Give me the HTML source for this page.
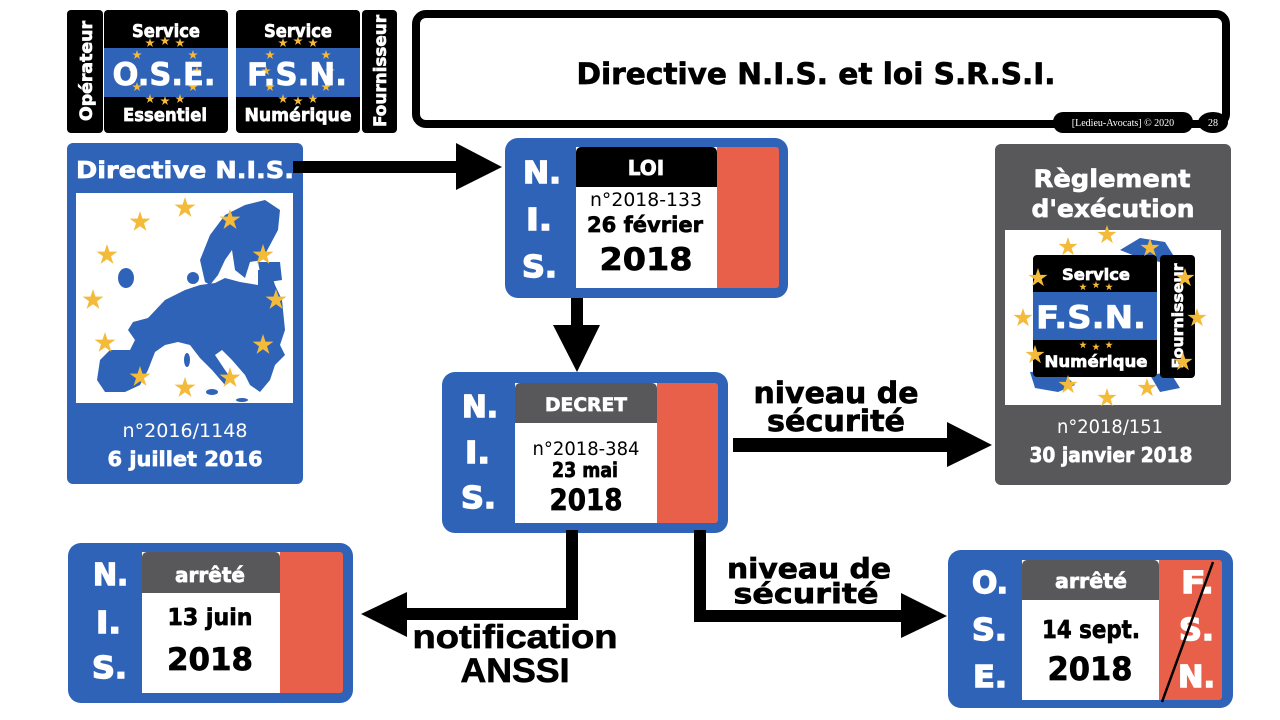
<!DOCTYPE html>
<html>
<head>
<meta charset="utf-8">
<style>
html,body{margin:0;padding:0;background:#fff;}
svg{display:block;}
.b{font-family:"DejaVu Sans","Liberation Sans",sans-serif;font-weight:bold;}
.r{font-family:"DejaVu Sans","Liberation Sans",sans-serif;font-weight:normal;}
.a{font-family:"Liberation Sans","DejaVu Sans",sans-serif;font-weight:bold;}
.s{font-family:"Liberation Serif","DejaVu Serif",serif;}
text.b[fill="#fff"]{stroke:#fff;stroke-width:0.7;}
text.b[fill="#000"],text.a[fill="#000"]{stroke:#000;stroke-width:0.7;}
text.L{stroke-width:1.4 !important;}
</style>
</head>
<body>
<svg width="1280" height="720" viewBox="0 0 1280 720" xmlns="http://www.w3.org/2000/svg">
<defs>
<path id="st" d="M0,-1 L0.225,-0.309 L0.951,-0.309 L0.363,0.118 L0.588,0.809 L0,0.382 L-0.588,0.809 L-0.363,0.118 L-0.951,-0.309 L-0.225,-0.309 Z" fill="#f4bb3a"/>
</defs>
<rect width="1280" height="720" fill="#fff"/>

<!-- ===== Top-left badges ===== -->
<rect x="67" y="10" width="36" height="123" rx="4" fill="#000"/>
<text class="b" fill="#fff" font-size="17" text-anchor="middle" textLength="100" lengthAdjust="spacingAndGlyphs" transform="translate(92,71) rotate(-90)">Opérateur</text>

<rect x="104" y="10" width="124" height="123" rx="4" fill="#000"/>
<rect x="104" y="48" width="124" height="49" fill="#2f63b8"/>
<g>
<use href="#st" transform="translate(150,43) scale(5)"/><use href="#st" transform="translate(165,41) scale(5)"/><use href="#st" transform="translate(180,43) scale(5)"/>
<use href="#st" transform="translate(150,99) scale(5)"/><use href="#st" transform="translate(165,101) scale(5)"/><use href="#st" transform="translate(180,99) scale(5)"/>
<use href="#st" transform="translate(137,55) scale(5)"/><use href="#st" transform="translate(193,55) scale(5)"/>
<use href="#st" transform="translate(133,71) scale(5)"/><use href="#st" transform="translate(197,71) scale(5)"/>
<use href="#st" transform="translate(137,87) scale(5)"/><use href="#st" transform="translate(193,87) scale(5)"/>
</g>
<text class="b" fill="#fff" font-size="18" x="166" y="37" text-anchor="middle" textLength="68" lengthAdjust="spacingAndGlyphs">Service</text>
<text class="b" fill="#fff" font-size="31" x="164" y="85" text-anchor="middle" textLength="103" lengthAdjust="spacingAndGlyphs">O.S.E.</text>
<text class="b" fill="#fff" font-size="18" x="165" y="121" text-anchor="middle" textLength="84" lengthAdjust="spacingAndGlyphs">Essentiel</text>

<rect x="236" y="10" width="124" height="123" rx="4" fill="#000"/>
<rect x="236" y="48" width="124" height="49" fill="#2f63b8"/>
<g>
<use href="#st" transform="translate(283,43) scale(5)"/><use href="#st" transform="translate(298,41) scale(5)"/><use href="#st" transform="translate(313,43) scale(5)"/>
<use href="#st" transform="translate(283,99) scale(5)"/><use href="#st" transform="translate(298,101) scale(5)"/><use href="#st" transform="translate(313,99) scale(5)"/>
<use href="#st" transform="translate(270,55) scale(5)"/><use href="#st" transform="translate(326,55) scale(5)"/>
<use href="#st" transform="translate(266,71) scale(5)"/><use href="#st" transform="translate(330,71) scale(5)"/>
<use href="#st" transform="translate(270,87) scale(5)"/><use href="#st" transform="translate(326,87) scale(5)"/>
</g>
<text class="b" fill="#fff" font-size="18" x="298" y="37" text-anchor="middle" textLength="68" lengthAdjust="spacingAndGlyphs">Service</text>
<text class="b" fill="#fff" font-size="31" x="297" y="85" text-anchor="middle" textLength="100" lengthAdjust="spacingAndGlyphs">F.S.N.</text>
<text class="b" fill="#fff" font-size="18" x="298" y="121" text-anchor="middle" textLength="107" lengthAdjust="spacingAndGlyphs">Numérique</text>

<rect x="362" y="10" width="35" height="123" rx="4" fill="#000"/>
<text class="b" fill="#fff" font-size="17" text-anchor="middle" textLength="112" lengthAdjust="spacingAndGlyphs" transform="translate(386,71) rotate(-90)">Fournisseur</text>

<!-- ===== Title box ===== -->
<rect x="416" y="14" width="810" height="110" rx="10" fill="#fff" stroke="#000" stroke-width="8"/>
<text class="b" fill="#000" font-size="29.5" x="816" y="84" text-anchor="middle" textLength="479" lengthAdjust="spacingAndGlyphs">Directive N.I.S. et loi S.R.S.I.</text>
<rect x="1053" y="112" width="140" height="21" rx="10" fill="#000"/>
<text class="s" fill="#fff" font-size="10" x="1123" y="126" text-anchor="middle">[Ledieu-Avocats] © 2020</text>
<ellipse cx="1213" cy="122.5" rx="15" ry="10.5" fill="#000"/>
<text class="s" fill="#fff" font-size="10" x="1213" y="126" text-anchor="middle">28</text>

<!-- ===== Directive N.I.S. card ===== -->
<rect x="67" y="143" width="236" height="341" rx="6" fill="#2f63b8"/>
<rect x="76" y="193" width="217" height="210" fill="#fff"/>
<text class="b" fill="#fff" font-size="23" x="185" y="178" text-anchor="middle" textLength="218" lengthAdjust="spacingAndGlyphs">Directive N.I.S.</text>
<g fill="#2f63b8">
<polygon points="133,322 148,318 165,300 185,290 200,285 215,283 225,278 240,282 258,285 258,270 270,270 275,285 282,300 285,330 280,345 285,355 275,365 270,380 260,392 250,385 245,375 232,360 222,350 215,355 225,370 232,380 225,385 212,370 200,358 190,345 178,342 165,345 155,352 148,370 140,385 125,392 105,392 97,380 100,360 110,350 130,350 135,340 128,330"/>
<polygon points="205,282 200,260 210,235 225,215 245,205 265,200 280,210 278,230 270,245 262,260 250,262 245,278 235,270 232,250 225,260 218,275 210,285"/>
<polygon points="258,262 280,262 282,280 262,283"/>
<ellipse cx="126" cy="278" rx="8" ry="10"/>
<ellipse cx="193" cy="278" rx="6" ry="6"/>
<ellipse cx="187" cy="360" rx="3" ry="7"/>
<ellipse cx="212" cy="392" rx="6" ry="3"/>
<ellipse cx="242" cy="400" rx="6" ry="2"/>
</g>
<g>
<use href="#st" transform="translate(185,208) scale(11)"/>
<use href="#st" transform="translate(140,222) scale(11)"/>
<use href="#st" transform="translate(230,220) scale(11)"/>
<use href="#st" transform="translate(107,255) scale(11)"/>
<use href="#st" transform="translate(263,255) scale(11)"/>
<use href="#st" transform="translate(93,300) scale(11)"/>
<use href="#st" transform="translate(276,300) scale(11)"/>
<use href="#st" transform="translate(105,343) scale(11)"/>
<use href="#st" transform="translate(263,345) scale(11)"/>
<use href="#st" transform="translate(140,377) scale(11)"/>
<use href="#st" transform="translate(230,378) scale(11)"/>
<use href="#st" transform="translate(185,388) scale(11)"/>
</g>
<text class="r" fill="#fff" font-size="19" x="185" y="437" text-anchor="middle" textLength="125" lengthAdjust="spacingAndGlyphs">n°2016/1148</text>
<text class="b" fill="#fff" font-size="20" x="185" y="466" text-anchor="middle" textLength="155" lengthAdjust="spacingAndGlyphs">6 juillet 2016</text>

<!-- Arrow Directive -> LOI -->
<rect x="293" y="161" width="165" height="12" fill="#000"/>
<polygon points="456,143 502,167 456,190" fill="#000"/>

<!-- ===== LOI card ===== -->
<rect x="505" y="138" width="283" height="160" rx="13" fill="#2f63b8"/>
<rect x="576" y="147" width="141" height="141" fill="#fff"/>
<rect x="717" y="147" width="62" height="141" rx="3" fill="#e8604a"/>
<rect x="717" y="147" width="8" height="141" fill="#e8604a"/>
<rect x="576" y="147" width="141" height="40" rx="5" fill="#000"/>
<rect x="576" y="177" width="141" height="10" fill="#000"/>
<text class="b" fill="#fff" font-size="20" x="646" y="175" text-anchor="middle">LOI</text>
<text class="r" fill="#000" font-size="19" x="646" y="206" text-anchor="middle" textLength="112" lengthAdjust="spacingAndGlyphs">n°2018-133</text>
<text class="b" fill="#000" font-size="21" x="645" y="232" text-anchor="middle" textLength="116" lengthAdjust="spacingAndGlyphs">26 février</text>
<text class="b" fill="#000" font-size="31" x="646" y="270" text-anchor="middle" textLength="93" lengthAdjust="spacingAndGlyphs">2018</text>
<text class="b L" fill="#fff" font-size="30" x="523" y="183" textLength="38" lengthAdjust="spacingAndGlyphs">N.</text>
<text class="b L" fill="#fff" font-size="30" x="526" y="230" textLength="26" lengthAdjust="spacingAndGlyphs">I.</text>
<text class="b L" fill="#fff" font-size="30" x="522" y="277" textLength="35" lengthAdjust="spacingAndGlyphs">S.</text>

<!-- Arrow LOI -> DECRET -->
<rect x="571" y="298" width="12" height="30" fill="#000"/>
<polygon points="553,325 600,325 577,372" fill="#000"/>

<!-- ===== DECRET card ===== -->
<rect x="442" y="372" width="286" height="161" rx="13" fill="#2f63b8"/>
<rect x="515" y="383" width="142" height="140" fill="#fff"/>
<rect x="657" y="383" width="61" height="140" rx="3" fill="#e8604a"/>
<rect x="657" y="383" width="8" height="140" fill="#e8604a"/>
<rect x="515" y="383" width="142" height="40" rx="5" fill="#58585b"/>
<rect x="515" y="413" width="142" height="10" fill="#58585b"/>
<text class="b" fill="#fff" font-size="19" x="586" y="411" text-anchor="middle" textLength="82" lengthAdjust="spacingAndGlyphs">DECRET</text>
<text class="r" fill="#000" font-size="19" x="586" y="455" text-anchor="middle" textLength="107" lengthAdjust="spacingAndGlyphs">n°2018-384</text>
<text class="b" fill="#000" font-size="20" x="585" y="477" text-anchor="middle" textLength="66" lengthAdjust="spacingAndGlyphs">23 mai</text>
<text class="b" fill="#000" font-size="29" x="586" y="510" text-anchor="middle" textLength="73" lengthAdjust="spacingAndGlyphs">2018</text>
<text class="b L" fill="#fff" font-size="30" x="462" y="417" textLength="36" lengthAdjust="spacingAndGlyphs">N.</text>
<text class="b L" fill="#fff" font-size="30" x="465" y="463" textLength="25" lengthAdjust="spacingAndGlyphs">I.</text>
<text class="b L" fill="#fff" font-size="30" x="461" y="508" textLength="35" lengthAdjust="spacingAndGlyphs">S.</text>

<!-- Arrow DECRET -> Règlement -->
<rect x="733" y="438" width="216" height="14" fill="#000"/>
<polygon points="947,422 992,445 947,467" fill="#000"/>
<text class="b" fill="#000" font-size="29" x="836" y="403" text-anchor="middle" textLength="165" lengthAdjust="spacingAndGlyphs">niveau de</text>
<text class="b" fill="#000" font-size="29" x="836" y="431" text-anchor="middle" textLength="138" lengthAdjust="spacingAndGlyphs">sécurité</text>

<!-- ===== Règlement card ===== -->
<rect x="995" y="144" width="236" height="341" rx="6" fill="#58585b"/>
<rect x="1005" y="230" width="216" height="175" fill="#fff"/>
<text class="b" fill="#fff" font-size="24" x="1112" y="187" text-anchor="middle" textLength="157" lengthAdjust="spacingAndGlyphs">Règlement</text>
<text class="b" fill="#fff" font-size="24" x="1113" y="217" text-anchor="middle" textLength="163" lengthAdjust="spacingAndGlyphs">d'exécution</text>
<g fill="#2f63b8">
<polygon points="1120,250 1140,238 1165,242 1175,258 1160,262 1140,258"/>
<polygon points="1030,372 1060,370 1075,385 1058,392 1035,388"/>
<polygon points="1150,375 1170,372 1180,388 1160,392"/>
</g>
<rect x="1033" y="255" width="124" height="122" rx="4" fill="#000"/>
<rect x="1033" y="292" width="124" height="48" fill="#2f63b8"/>
<rect x="1160" y="255" width="35" height="123" rx="4" fill="#000"/>
<text class="b" fill="#fff" font-size="16" x="1096" y="280" text-anchor="middle" textLength="68" lengthAdjust="spacingAndGlyphs">Service</text>
<text class="b" fill="#fff" font-size="31" x="1091" y="328" text-anchor="middle" textLength="110" lengthAdjust="spacingAndGlyphs">F.S.N.</text>
<text class="b" fill="#fff" font-size="16" x="1096" y="367" text-anchor="middle" textLength="103" lengthAdjust="spacingAndGlyphs">Numérique</text>
<text class="b" fill="#fff" font-size="15" text-anchor="middle" textLength="105" lengthAdjust="spacingAndGlyphs" transform="translate(1183,316) rotate(-90)">Fournisseur</text>
<g>
<use href="#st" transform="translate(1107,235) scale(10)"/>
<use href="#st" transform="translate(1068,247) scale(10)"/>
<use href="#st" transform="translate(1150,248) scale(10)"/>
<use href="#st" transform="translate(1038,278) scale(10)"/>
<use href="#st" transform="translate(1185,278) scale(10)"/>
<use href="#st" transform="translate(1023,318) scale(10)"/>
<use href="#st" transform="translate(1197,318) scale(10)"/>
<use href="#st" transform="translate(1035,355) scale(10)"/>
<use href="#st" transform="translate(1183,362) scale(10)"/>
<use href="#st" transform="translate(1068,385) scale(10)"/>
<use href="#st" transform="translate(1147,388) scale(10)"/>
<use href="#st" transform="translate(1107,398) scale(10)"/>
<use href="#st" transform="translate(1083,287) scale(4)"/><use href="#st" transform="translate(1096,285) scale(4)"/><use href="#st" transform="translate(1109,287) scale(4)"/>
<use href="#st" transform="translate(1083,345) scale(4)"/><use href="#st" transform="translate(1096,347) scale(4)"/><use href="#st" transform="translate(1109,345) scale(4)"/>
</g>
<text class="r" fill="#fff" font-size="19" x="1110" y="433" text-anchor="middle" textLength="106" lengthAdjust="spacingAndGlyphs">n°2018/151</text>
<text class="b" fill="#fff" font-size="20" x="1111" y="462" text-anchor="middle" textLength="163" lengthAdjust="spacingAndGlyphs">30 janvier 2018</text>

<!-- ===== Bottom connectors ===== -->
<rect x="566" y="530" width="12" height="90" fill="#000"/>
<rect x="405" y="608" width="173" height="12" fill="#000"/>
<polygon points="407,592 361,614 407,637" fill="#000"/>
<text class="a" fill="#000" font-size="33" x="515" y="648" text-anchor="middle" textLength="205" lengthAdjust="spacingAndGlyphs">notification</text>
<text class="a" fill="#000" font-size="34" x="515" y="682" text-anchor="middle" textLength="109" lengthAdjust="spacingAndGlyphs">ANSSI</text>

<rect x="694" y="530" width="12" height="92" fill="#000"/>
<rect x="694" y="610" width="209" height="12" fill="#000"/>
<polygon points="901,593 947,616 901,638" fill="#000"/>
<text class="b" fill="#000" font-size="28" x="809" y="578" text-anchor="middle" textLength="164" lengthAdjust="spacingAndGlyphs">niveau de</text>
<text class="b" fill="#000" font-size="28" x="806" y="603" text-anchor="middle" textLength="145" lengthAdjust="spacingAndGlyphs">sécurité</text>

<!-- ===== arrêté 13 juin card ===== -->
<rect x="68" y="543" width="285" height="160" rx="13" fill="#2f63b8"/>
<rect x="142" y="552" width="138" height="141" fill="#fff"/>
<rect x="280" y="552" width="63" height="141" rx="3" fill="#e8604a"/>
<rect x="280" y="552" width="8" height="141" fill="#e8604a"/>
<rect x="142" y="552" width="138" height="41" rx="5" fill="#58585b"/>
<rect x="142" y="583" width="138" height="10" fill="#58585b"/>
<text class="b" fill="#fff" font-size="20" x="210" y="582" text-anchor="middle" textLength="70" lengthAdjust="spacingAndGlyphs">arrêté</text>
<text class="b" fill="#000" font-size="23" x="210" y="625" text-anchor="middle" textLength="85" lengthAdjust="spacingAndGlyphs">13 juin</text>
<text class="b" fill="#000" font-size="31" x="210" y="670" text-anchor="middle" textLength="86" lengthAdjust="spacingAndGlyphs">2018</text>
<text class="b L" fill="#fff" font-size="30" x="93" y="585" textLength="35" lengthAdjust="spacingAndGlyphs">N.</text>
<text class="b L" fill="#fff" font-size="30" x="96" y="633" textLength="25" lengthAdjust="spacingAndGlyphs">I.</text>
<text class="b L" fill="#fff" font-size="30" x="92" y="678" textLength="35" lengthAdjust="spacingAndGlyphs">S.</text>

<!-- ===== arrêté 14 sept. card ===== -->
<rect x="948" y="550" width="285" height="158" rx="13" fill="#2f63b8"/>
<rect x="1022" y="560" width="137" height="140" fill="#fff"/>
<rect x="1159" y="560" width="63" height="140" rx="3" fill="#e8604a"/>
<rect x="1159" y="560" width="8" height="140" fill="#e8604a"/>
<rect x="1022" y="560" width="137" height="40" rx="5" fill="#58585b"/>
<rect x="1022" y="590" width="137" height="10" fill="#58585b"/>
<text class="b" fill="#fff" font-size="20" x="1091" y="588" text-anchor="middle" textLength="72" lengthAdjust="spacingAndGlyphs">arrêté</text>
<text class="b" fill="#000" font-size="25" x="1091" y="638" text-anchor="middle" textLength="98" lengthAdjust="spacingAndGlyphs">14 sept.</text>
<text class="b" fill="#000" font-size="32" x="1090" y="680" text-anchor="middle" textLength="85" lengthAdjust="spacingAndGlyphs">2018</text>
<text class="b L" fill="#fff" font-size="30" x="972" y="593" textLength="36" lengthAdjust="spacingAndGlyphs">O.</text>
<text class="b L" fill="#fff" font-size="30" x="972" y="640" textLength="35" lengthAdjust="spacingAndGlyphs">S.</text>
<text class="b L" fill="#fff" font-size="30" x="973" y="687" textLength="34" lengthAdjust="spacingAndGlyphs">E.</text>
<text class="b L" fill="#fff" font-size="30" x="1181" y="593" textLength="33" lengthAdjust="spacingAndGlyphs">F.</text>
<text class="b L" fill="#fff" font-size="30" x="1179" y="640" textLength="35" lengthAdjust="spacingAndGlyphs">S.</text>
<text class="b L" fill="#fff" font-size="30" x="1178" y="687" textLength="37" lengthAdjust="spacingAndGlyphs">N.</text>
<line x1="1213" y1="562" x2="1162" y2="702" stroke="#000" stroke-width="2.5"/>
</svg>
</body>
</html>
